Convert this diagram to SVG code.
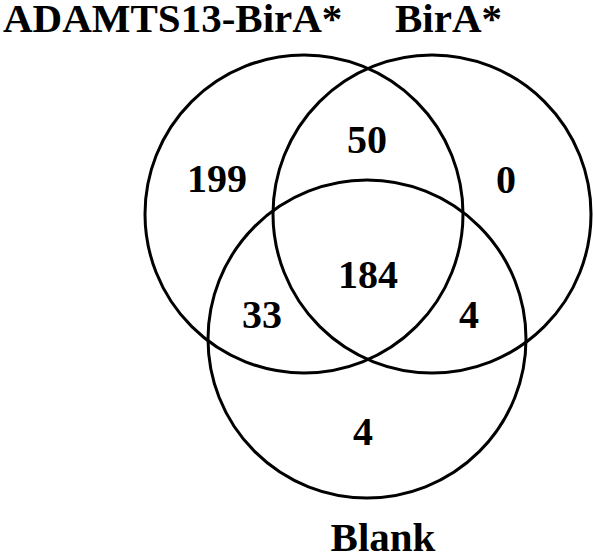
<svg xmlns="http://www.w3.org/2000/svg" width="593" height="555" viewBox="0 0 593 555">
<style>
.c{fill:none;stroke:#000;stroke-width:3}
.t{font-family:"Liberation Serif","Times New Roman",serif;font-weight:bold;font-size:40px;fill:#000}
.l{font-family:"Liberation Serif","Times New Roman",serif;font-weight:bold;font-size:41px;fill:#000}
</style>
<rect width="593" height="555" fill="#fff"/>
<g id="set-adamts13">
<circle class="c" cx="304" cy="214" r="159"/>
<text class="l" x="3" y="32">ADAMTS13-BirA*</text>
</g>
<g id="set-bira">
<circle class="c" cx="432" cy="214" r="159"/>
<text class="l" x="395" y="32">BirA*</text>
</g>
<g id="set-blank">
<circle class="c" cx="367" cy="339" r="159"/>
<text class="l" x="383" y="551" text-anchor="middle">Blank</text>
</g>
<g id="counts" text-anchor="middle">
<text class="t" x="217" y="192">199</text>
<text class="t" x="367" y="153">50</text>
<text class="t" x="506" y="193">0</text>
<text class="t" x="368" y="288">184</text>
<text class="t" x="262" y="328">33</text>
<text class="t" x="469" y="328">4</text>
<text class="t" x="363" y="445">4</text>
</g>
</svg>
